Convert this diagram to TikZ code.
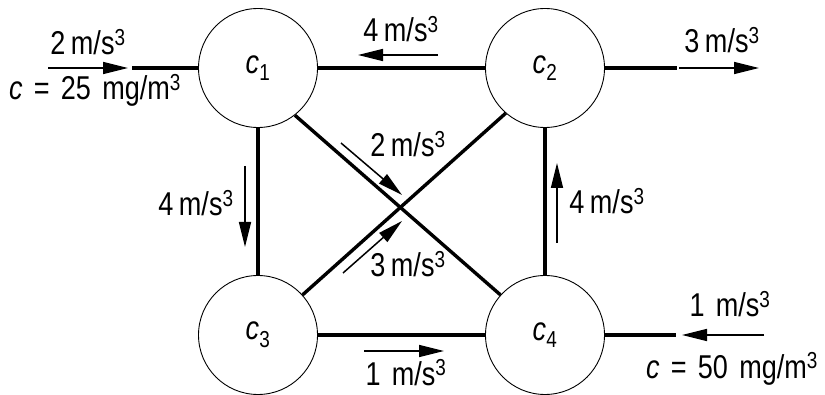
\documentclass[tikz,border=0pt]{standalone}
\usepackage{fontspec}
\setmainfont{Liberation Sans}[FakeStretch=0.82, WordSpace=1.5]
\usetikzlibrary{arrows.meta}
\tikzset{
  tank/.style={circle, draw, line width=0.9pt, minimum size=119pt, inner sep=0pt},
  pipe/.style={line width=3.4pt},
  flow/.style={line width=1.5pt, -{Triangle[length=25pt,width=12pt]}},
  lbl/.style={anchor=base, inner sep=0pt},
}
\newcommand{\rate}[1]{#1\,m/s\textsuperscript{3}}
\newcommand{\tankname}[1]{\textit{c}\textsubscript{#1}}
\begin{document}
\begin{tikzpicture}[x=1pt, y=-1pt, font=\fontsize{33}{38}\selectfont]
	\useasboundingbox (0,0) rectangle (825,395);
	% tanks
	\node[tank] (c1) at (258,68) {\tankname{1}};
	\node[tank] (c2) at (545,68) {\tankname{2}};
	\node[tank] (c3) at (258,335) {\tankname{3}};
	\node[tank] (c4) at (545,335) {\tankname{4}};
	% pipes
	\coordinate (in1) at (132,68);
	\coordinate (out2) at (677,68);
	\coordinate (in4) at (676,335);
	\draw[pipe] (in1) -- (c1.west);
	\draw[pipe] (c1) -- (c2);
	\draw[pipe] (c2.east) -- (out2);
	\draw[pipe] (c1) -- (c3);
	\draw[pipe] (c2) -- (c4);
	\draw[pipe] (c3) -- (c4);
	\draw[pipe] (c4.east) -- (in4);
	\draw[pipe] (c1.-52) -- (c4.138);
	\draw[pipe] (c3.42) -- (c2.229);
	% flow arrows
	\coordinate (a1) at (48,68);   \coordinate (b1) at (128,68);
	\coordinate (a2) at (438,55);  \coordinate (b2) at (358,55);
	\coordinate (a3) at (679,68);  \coordinate (b3) at (759,68);
	\coordinate (a4) at (245,166); \coordinate (b4) at (245,247);
	\coordinate (a5) at (557,243); \coordinate (b5) at (557,163);
	\coordinate (a6) at (341,143); \coordinate (b6) at (402,195);
	\coordinate (a7) at (343,273); \coordinate (b7) at (402,221);
	\coordinate (a8) at (364,351); \coordinate (b8) at (444,351);
	\coordinate (a9) at (764,335); \coordinate (b9) at (682,335);
	\foreach \i in {1,...,9}
		\draw[flow] (a\i) -- (b\i);
	% labels
	\node[lbl] (q1) at (88,55) {\rate{2}};
	\node[lbl] (k1) at (95,100) {\textit{c} = 25 mg/m\textsuperscript{3}};
	\node[lbl] (q12) at (401,42) {\rate{4}};
	\node[lbl] (q2) at (722,53) {\rate{3}};
	\node[lbl] (q13) at (196,216) {\rate{4}};
	\node[lbl] (q42) at (607,214) {\rate{4}};
	\node[lbl] (q14) at (408,157) {\rate{2}};
	\node[lbl] (q32) at (408,277) {\rate{3}};
	\node[lbl] (q34) at (406,385) {1 m/s\textsuperscript{3}};
	\node[lbl] (q4) at (730,317) {1 m/s\textsuperscript{3}};
	\node[lbl] (k4) at (732,378) {\textit{c} = 50 mg/m\textsuperscript{3}};
\end{tikzpicture}
\end{document}
